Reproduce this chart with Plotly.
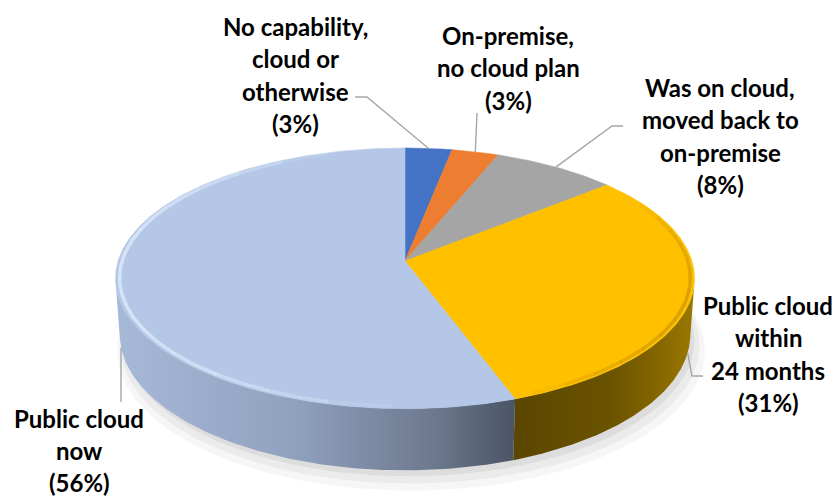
import numpy as np
import plotly.graph_objects as go

# ---------------- data ----------------
categories = ["No capability, cloud or otherwise", "On-premise, no cloud plan",
              "Was on cloud, moved back to on-premise", "Public cloud within 24 months",
              "Public cloud now"]
values = [3, 3, 8, 31, 56]
top_colors = ["#4472C4", "#ED7D31", "#A5A5A5", "#FFC000", "#B4C7E7"]
side_scales = [
    [[0, "#2F5597"], [1, "#3A66B0"]],
    [[0, "#A4561E"], [1, "#C46A28"]],
    [[0, "#6E6E6E"], [1, "#8A8A8A"]],
    [[0, "#5A4600"], [0.55, "#6B5300"], [1, "#9A7700"]],
    [[0, "#A7B9D8"], [0.45, "#90A1BE"], [0.8, "#6C788D"], [1, "#4A5465"]],
]
rim_rgb = [None, None, None, (185, 135, 0), (228, 238, 253)]
label_lines = [["No capability,", "cloud or", "otherwise"],
               ["On-premise,", "no cloud plan"],
               ["Was on cloud,", "moved back to", "on-premise"],
               ["Public cloud", "within", "24 months"],
               ["Public cloud", "now"]]

# ---------------- layout / geometry ----------------
W, H = 836, 497
CX, CY = 405, 261
PHI = np.radians(26.5)
DIST = 6.72
FOCAL = 1928
THICK = 0.22
FONT = "Lato"
FSIZE = 24
LINE_H = 32.5

label_pos = [(295, 26), (508, 35), (720, 87), (768, 305), (79, 418)]
label_step = [LINE_H, LINE_H, LINE_H, LINE_H, 32.0]
leader_start = [[(355, 97), (367, 97)], [(477, 113)], [(623, 126), (612, 126)],
                [(703, 376), (692, 376)], [(121, 402)]]
leader_level = [0.0, 0.0, 0.0, -THICK, -THICK]
rim_span = [None, None, None, (12, 4, 0.5), (22, 18, 0.7)]


def proj(theta_deg, z=0.0, r=1.0):
    t = np.radians(theta_deg)
    x, y = r * np.sin(t), r * np.cos(t)
    depth = y * np.cos(PHI) - z * np.sin(PHI) + DIST
    X = x / depth * FOCAL
    Y = (y * np.sin(PHI) + z * np.cos(PHI)) / depth * FOCAL
    return CX + X, CY - Y


total = float(sum(values))
bounds = np.concatenate([[0], np.cumsum(values)]) / total * 360.0
th_lo = np.degrees(np.arccos(-1.0 / (DIST * np.cos(PHI))))
th_hi = 360.0 - th_lo

fig = go.Figure()

# soft shadow under the pie
for grow, dx, dy, op in [(1.03, 6, 14, 0.035), (1.015, 5, 10, 0.045), (1.0, 4, 6, 0.06)]:
    ts = np.linspace(0, 360, 241)
    px, py = proj(ts, -THICK)
    px = CX + (px - CX) * grow + dx
    py = (py - CY) * grow + CY + dy
    fig.add_trace(go.Scatter(x=px, y=py, mode="lines", fill="toself",
                             fillcolor=f"rgba(0,0,0,{op})", line=dict(width=0),
                             hoverinfo="skip", showlegend=False))

# side walls
for i in range(len(values)):
    a, b = max(bounds[i], th_lo), min(bounds[i + 1], th_hi)
    if b <= a:
        continue
    ts = np.linspace(a, b, 120)
    tx, ty = proj(ts, 0.0)
    bx, by = proj(ts[::-1], -THICK)
    xs = np.concatenate([tx, bx, tx[:1]])
    ys = np.concatenate([ty, by, ty[:1]])
    fig.add_trace(go.Scatter(x=xs, y=ys, mode="lines", fill="toself",
                             fillgradient=dict(type="horizontal", colorscale=side_scales[i],
                                               start=float(xs.min()), stop=float(xs.max())),
                             line=dict(width=0), hoverinfo="skip", showlegend=False))

# top faces
for i in range(len(values)):
    ts = np.linspace(bounds[i], bounds[i + 1], max(8, int(values[i] * 6)))
    ax, ay = proj(ts, 0.0)
    xs = np.concatenate([[CX], ax, [CX]])
    ys = np.concatenate([[CY], ay, [CY]])
    fig.add_trace(go.Scatter(x=xs, y=ys, mode="lines", fill="toself",
                             fillcolor=top_colors[i], line=dict(width=0.6, color=top_colors[i]),
                             hoverinfo="text", text=categories[i], showlegend=False))

# bevel highlight along the rim (tapered)
NSEG = 14
for i in range(len(values)):
    if rim_span[i] is None:
        continue
    pa, pb, amax = rim_span[i]
    a, b = bounds[i] + pa, bounds[i + 1] - pb
    edges = np.linspace(a, b, NSEG + 1)
    r, g, bl = rim_rgb[i]
    for k in range(NSEG):
        alpha = amax * np.sin(np.pi * (k + 0.5) / NSEG) ** 0.7
        ts = np.linspace(edges[k], edges[k + 1] + 0.3, 12)
        rx, ry = proj(ts, 0.0, 0.986)
        fig.add_trace(go.Scatter(x=rx, y=ry, mode="lines",
                                 line=dict(color=f"rgba({r},{g},{bl},{alpha:.3f})", width=3.5),
                                 hoverinfo="skip", showlegend=False))

# leader lines and labels
annotations = []
for i in range(len(values)):
    mid = (bounds[i] + bounds[i + 1]) / 2
    axp, ayp = proj(mid, leader_level[i])
    pts = list(leader_start[i])
    if i == 4:
        pts.append((pts[0][0], ayp + 8))
    else:
        pts.append((axp, ayp))
    fig.add_trace(go.Scatter(x=[p[0] for p in pts], y=[p[1] for p in pts], mode="lines",
                             line=dict(color="#A6A6A6", width=1.4),
                             hoverinfo="skip", showlegend=False))
    lines = label_lines[i] + [f"({values[i]}%)"]
    lx, ly = label_pos[i]
    for j, txt in enumerate(lines):
        annotations.append(dict(x=lx, y=ly + j * label_step[i], xref="x", yref="y",
                                text=f"<b>{txt}</b>", showarrow=False,
                                xanchor="center", yanchor="middle",
                                font=dict(family=FONT, size=FSIZE, color="#000000")))

fig.update_layout(
    width=W, height=H, margin=dict(l=0, r=0, t=0, b=0),
    paper_bgcolor="white", plot_bgcolor="white",
    xaxis=dict(range=[0, W], visible=False, fixedrange=True),
    yaxis=dict(range=[H, 0], visible=False, fixedrange=True),
    annotations=annotations, showlegend=False,
)
fig.write_html("out.html", config={"displayModeBar": False},
               post_script="document.body.style.margin='0';document.body.style.overflow='hidden';")
